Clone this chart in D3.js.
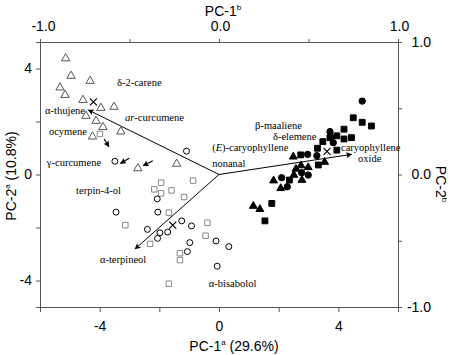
<!DOCTYPE html>
<meta charset="utf-8">
<head>
  <title>PCA biplot</title>
</head>
<style>
  body { margin: 0; background: #fff; }
  svg text { fill: #000; }
  .axis path, .axis line { stroke: #555; }
  .tick text { font-family: Arial, "Liberation Sans", sans-serif; font-size: 14px; }
  .lab { font-family: "Liberation Serif", "Times New Roman", serif; font-size: 10.5px; }
  .title { font-family: Arial, "Liberation Sans", sans-serif; font-size: 14px; }
</style>
<body>
  <svg width="450" height="355"></svg>

  <script src="https://cdnjs.cloudflare.com/ajax/libs/d3/7.8.5/d3.min.js"></script>
  <script>
  // scores (PC-1a, PC-2a)
  var openTriangles = [[-5.14,4.38],[-4.96,3.72],[-4.32,3.53],[-5.33,3.28],[-5.16,3.0],[-4.56,2.81],
    [-3.96,2.51],[-3.52,2.55],[-4.46,2.21],[-4.12,2.02],[-3.89,1.79],[-3.29,1.62],[-4.24,1.43],
    [-2.72,0.23],[-1.42,0.40]];
  var openSquares = [[-3.99,1.53],[-0.87,-0.23],[-1.94,-0.31],[-2.17,-0.56],[-1.94,-0.71],[-1.59,-0.60],
    [-1.17,-0.85],[-1.68,-1.44],[-3.14,-1.91],[-0.39,-1.82],[-0.45,-2.31],[-2.31,-2.62],[-1.31,-2.97],
    [-1.31,-3.23],[-1.68,-4.12]];
  var openCircles = [[-1.09,0.88],[-3.49,0.50],[-2.07,-0.92],[-3.45,-1.42],[-2.05,-1.42],[-1.25,-1.75],
    [-0.92,-1.94],[-2.40,-2.07],[-1.98,-2.20],[-1.72,-2.17],[-2.06,-2.41],[-0.98,-2.57],[-1.06,-2.91],
    [-0.10,-2.51],[0.33,-2.72],[-0.06,-3.46]];
  var filledSquares = [[4.50,2.14],[4.80,1.97],[5.11,1.83],[4.19,1.71],[3.95,1.46],[4.19,1.34],[4.44,1.39],
    [3.72,1.39],[3.48,1.24],[3.30,0.99],[3.95,0.92],[2.74,0.74],[3.33,0.36],[2.36,-0.21],[1.77,-1.09],[1.54,-1.75]];
  var filledCircles = [[4.80,2.77],[3.72,1.62],[3.74,1.40],[3.83,1.20],[2.97,0.76],[3.28,0.71],[2.77,0.07],
    [2.99,-0.02],[2.10,-0.12],[2.29,-0.46]];
  var filledTriangles = [[2.49,0.67],[2.75,0.34],[2.99,0.27],[2.58,0.21],[2.51,-0.02],[2.78,-0.21],
    [1.83,-0.23],[2.07,-0.52],[1.15,-1.19],[1.37,-1.31],[3.54,0.47]];
  var centroids = [[-4.21,2.74],[-1.55,-1.91],[3.62,0.87]];

  // loadings (PC-1b, PC-2b)
  var loadings = [[-0.73,0.487],[-0.469,-0.562],[0.741,0.152]];
  // short marker arrows (PC-1a, PC-2a): tail x, tail y, head x, head y
  var smallArrows = [[-3.85,1.34,-3.69,1.05],[-3.01,0.61,-3.30,0.42],[-2.22,0.52,-2.54,0.33]];

  var labelText = ["δ-2-carene","α-thujene","<i>ar</i>-curcumene","ocymene","γ-curcumene","terpin-4-ol",
    "α-terpineol","α-bisabolol","(<i>E</i>)-caryophyllene","nonanal","β-maaliene","δ-elemene",
    "caryophyllene","oxide"];
  var labelX = [-3.42,-5.83,-3.15,-5.70,-5.77,-4.79,-3.99,-0.34,-0.23,-0.23,1.21,1.81,4.09,4.66];
  var labelY = [3.34,2.28,2.02,1.49,0.32,-0.74,-3.34,-4.25,0.89,0.28,1.70,1.32,0.89,0.49];

  var xTicks = [-6,-4,-2,0,2,4,6], xLabelled = [-4,0,4];
  var yTicks = [-4,-2,0,2,4], yLabelled = [-4,0,4];
  var bTicks = [-1,-0.5,0,0.5,1], bLabelled = [-1,0,1];

  var svg = d3.select('svg');
  var x = d3.scaleLinear().domain([-6,6]).range([40,398]);
  var y = d3.scaleLinear().domain([-5,5]).range([307,42]);
  var x2 = d3.scaleLinear().domain([-1,1]).range([40,398]);
  var y2 = d3.scaleLinear().domain([-1,1]).range([307,42]);

  function fmtInt(d) { return xLabelled.indexOf(d) >= 0 ? String(d) : ''; }
  function fmtY(d) { return yLabelled.indexOf(d) >= 0 ? String(d) : ''; }
  function fmtB(d) { return bLabelled.indexOf(d) >= 0 ? d.toFixed(1) : ''; }

  svg.append('g').attr('class','axis').attr('transform','translate(0,307)')
    .call(d3.axisBottom(x).tickValues(xTicks).tickSize(5).tickPadding(9).tickFormat(fmtInt));
  svg.append('g').attr('class','axis').attr('transform','translate(40,0)')
    .call(d3.axisLeft(y).tickValues(yTicks).tickSize(4).tickPadding(4).tickFormat(fmtY));
  var topAxis = svg.append('g').attr('class','axis').attr('transform','translate(0,42)')
    .call(d3.axisTop(x2).tickValues(bTicks).tickSize(3).tickPadding(8).tickFormat(fmtB));
  topAxis.selectAll('.tick text').attr('dx', function(d){ return d < 0 ? 3 : 1; });
  svg.append('g').attr('class','axis').attr('transform','translate(398,0)')
    .call(d3.axisRight(y2).tickValues(bTicks).tickSize(4).tickPadding(5).tickFormat(fmtB))
    .selectAll('.tick text').attr('text-anchor','end').attr('x', 33);
  svg.selectAll('.axis .domain').attr('stroke','#555');

  // axis titles
  var t1 = svg.append('text').attr('class','title').attr('x',223).attr('y',16).attr('text-anchor','middle');
  t1.append('tspan').text('PC-1');
  t1.append('tspan').attr('font-size','8px').attr('dy','-6').text('b');
  var t2 = svg.append('text').attr('class','title').attr('x',234).attr('y',351).attr('text-anchor','middle');
  t2.append('tspan').text('PC-1');
  t2.append('tspan').attr('font-size','8px').attr('dy','-6').text('a');
  t2.append('tspan').attr('dy','6').text(' (29.6%)');
  var t3 = svg.append('text').attr('class','title').attr('text-anchor','middle')
    .attr('transform','translate(16,176) rotate(-90)');
  t3.append('tspan').text('PC-2');
  t3.append('tspan').attr('font-size','8px').attr('dy','-6').text('a');
  t3.append('tspan').attr('dy','6').text(' (10.8%)');
  var t4 = svg.append('text').attr('class','title').attr('text-anchor','middle')
    .attr('transform','translate(436,184) rotate(90)');
  t4.append('tspan').text('PC-2');
  t4.append('tspan').attr('font-size','8px').attr('dy','-6').text('b');

  // arrowheads
  var defs = svg.append('defs');
  defs.append('marker').attr('id','ah').attr('viewBox','0 0 10 10').attr('refX',9).attr('refY',5)
    .attr('markerWidth',10).attr('markerHeight',6).attr('markerUnits','userSpaceOnUse').attr('orient','auto')
    .append('path').attr('d','M0,0L10,5L0,10L2,5Z').attr('fill','#000');
  defs.append('marker').attr('id','ahs').attr('viewBox','0 0 10 10').attr('refX',9).attr('refY',5)
    .attr('markerWidth',8).attr('markerHeight',6).attr('markerUnits','userSpaceOnUse').attr('orient','auto')
    .append('path').attr('d','M0,0L10,5L0,10L2,5Z').attr('fill','#000');

  svg.selectAll('line.vec').data(loadings).enter().append('line').attr('class','vec')
    .attr('x1', x2(0)).attr('y1', y2(0))
    .attr('x2', function(d){ return x2(d[0]); }).attr('y2', function(d){ return y2(d[1]); })
    .attr('stroke','#000').attr('stroke-width',1).attr('marker-end','url(#ah)');

  svg.selectAll('line.sm').data(smallArrows).enter().append('line').attr('class','sm')
    .attr('x1', function(d){ return x(d[0]); }).attr('y1', function(d){ return y(d[1]); })
    .attr('x2', function(d){ return x(d[2]); }).attr('y2', function(d){ return y(d[3]); })
    .attr('stroke','#000').attr('stroke-width',1.2).attr('marker-end','url(#ahs)');

  function drawPoints(data, type, size, fill, stroke) {
    svg.append('g').selectAll('path').data(data).enter().append('path')
      .attr('d', d3.symbol().type(type).size(size))
      .attr('transform', function(d){ return 'translate(' + x(d[0]) + ',' + y(d[1]) + ')'; })
      .attr('fill', fill).attr('stroke', stroke).attr('stroke-width', 1);
  }
  drawPoints(openSquares, d3.symbolSquare, 30, '#fff', '#888');
  drawPoints(openTriangles, d3.symbolTriangle, 30, '#fff', '#555');
  drawPoints(openCircles, d3.symbolCircle, 28, '#fff', '#000');
  drawPoints(filledSquares, d3.symbolSquare, 34, '#000', '#000');
  drawPoints(filledCircles, d3.symbolCircle, 32, '#000', '#000');
  drawPoints(filledTriangles, d3.symbolTriangle, 27, '#000', '#000');

  svg.append('g').selectAll('path').data(centroids).enter().append('path')
    .attr('d', 'M-3.5,-3.5L3.5,3.5M-3.5,3.5L3.5,-3.5')
    .attr('transform', function(d){ return 'translate(' + x(d[0]) + ',' + y(d[1]) + ')'; })
    .attr('stroke','#000').attr('stroke-width',1.2).attr('fill','none');

  svg.append('g').selectAll('text').data(labelText).enter().append('text').attr('class','lab')
    .attr('x', function(d,i){ return x(labelX[i]); })
    .attr('y', function(d,i){ return y(labelY[i]); })
    .each(function(d) {
      var t = d3.select(this);
      d.split(/(<i>.*?<\/i>)/).forEach(function(part) {
        if (!part) return;
        if (part.indexOf('<i>') === 0) t.append('tspan').attr('font-style','italic').text(part.replace(/<\/?i>/g,''));
        else t.append('tspan').text(part);
      });
    });
  </script>
</body>
</html>
